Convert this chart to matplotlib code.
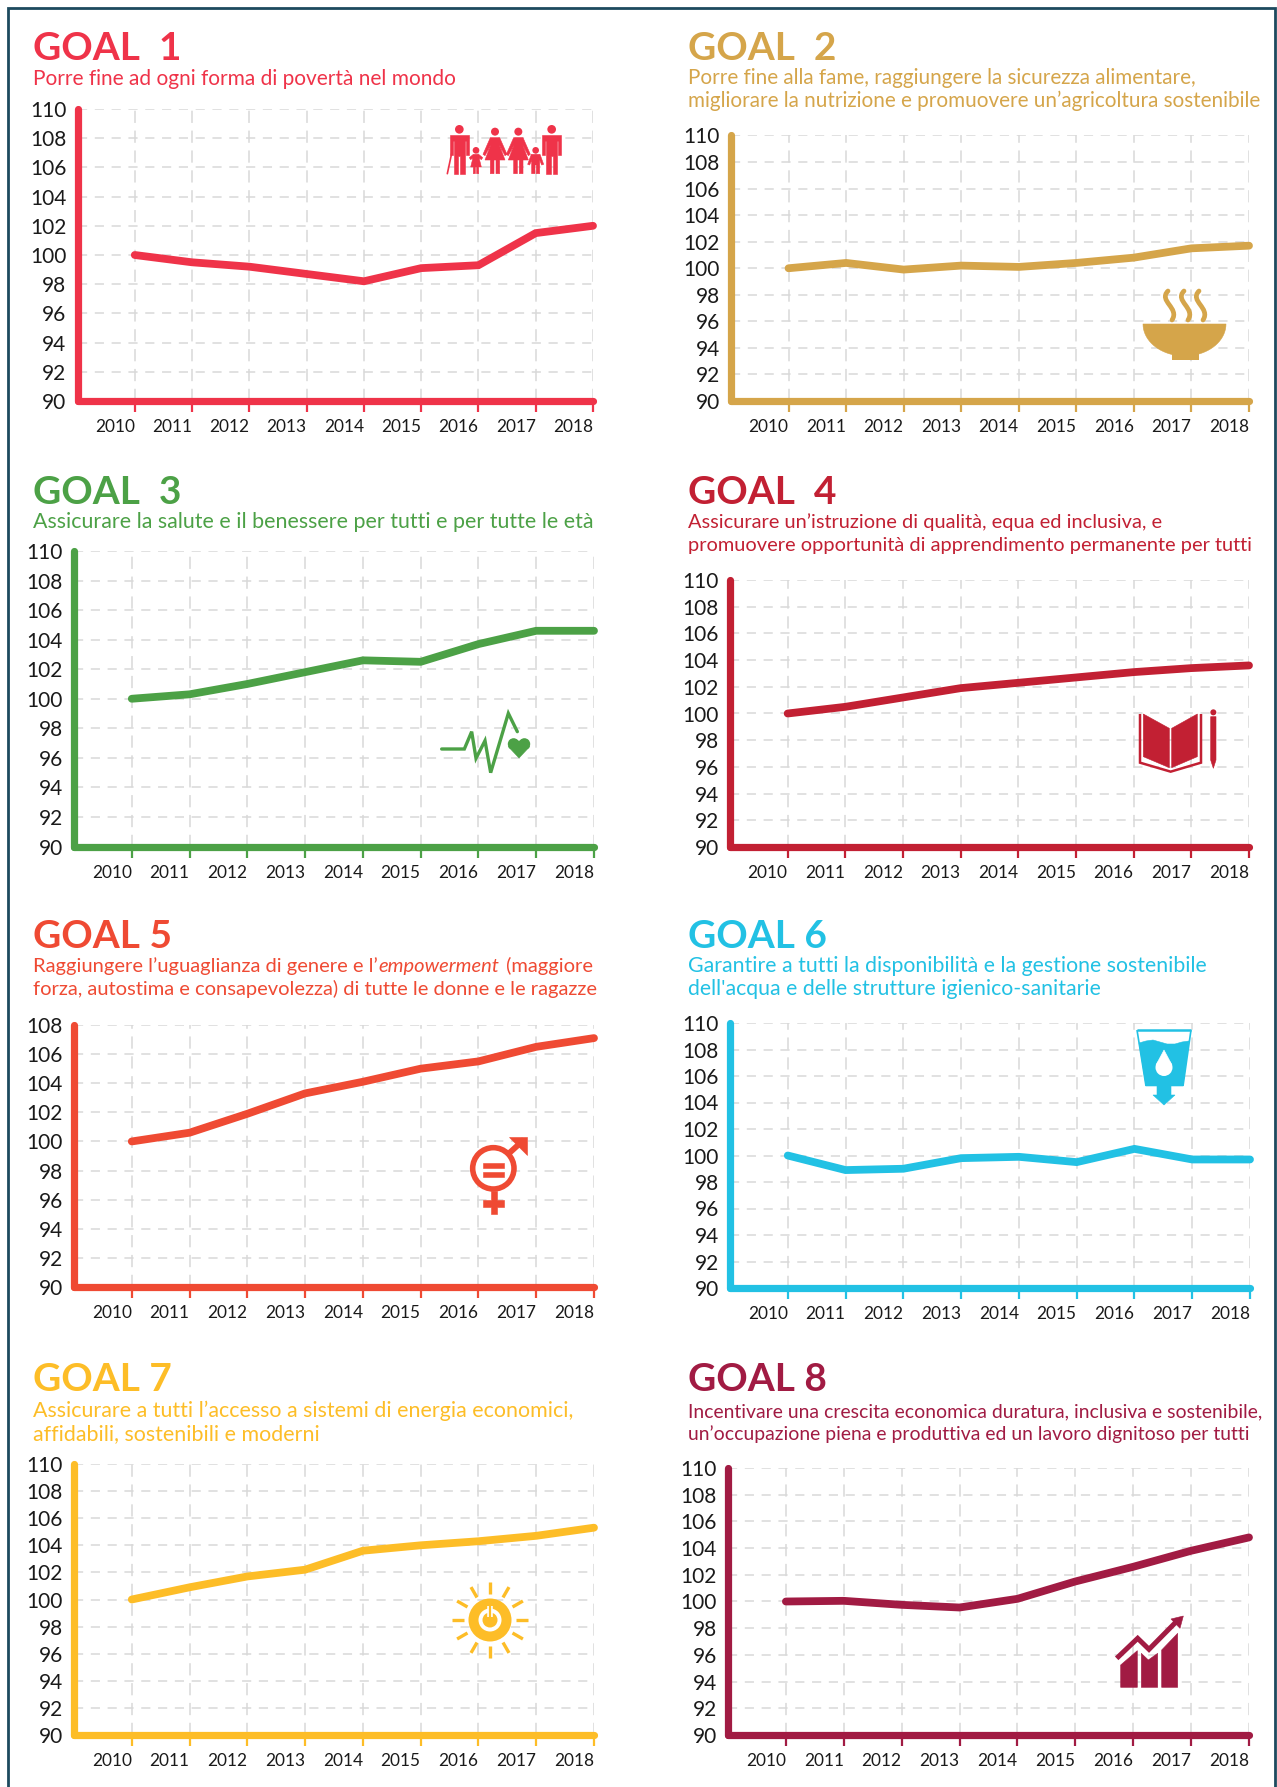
import matplotlib
matplotlib.use("Agg")
import matplotlib.pyplot as plt
import numpy as np
from matplotlib.patches import Polygon, Circle, Rectangle, PathPatch
from matplotlib.path import Path
from matplotlib.transforms import ScaledTranslation

W, H = 1277, 1787
plt.rcParams['font.family'] = ['Lato', 'DejaVu Sans']

years = [2010, 2011, 2012, 2013, 2014, 2015, 2016, 2017, 2018]
ticks110 = list(range(90, 111, 2))
ticks108 = list(range(90, 109, 2))

goal1 = [100, 99.5, 99.2, 98.7, 98.2, 99.1, 99.3, 101.5, 102]
goal2 = [100, 100.4, 99.9, 100.2, 100.1, 100.4, 100.8, 101.5, 101.7]
goal3 = [100, 100.3, 101, 101.8, 102.6, 102.5, 103.7, 104.6, 104.6]
goal4 = [100, 100.5, 101.2, 101.9, 102.3, 102.7, 103.1, 103.4, 103.6]
goal5 = [100, 100.6, 101.9, 103.3, 104.1, 105, 105.5, 106.5, 107.1]
goal6 = [100, 98.9, 99, 99.8, 99.9, 99.5, 100.5, 99.7, 99.7]
goal7 = [100, 100.9, 101.7, 102.2, 103.6, 104, 104.3, 104.7, 105.3]
goal8 = [100, 100.05, 99.75, 99.55, 100.2, 101.5, 102.6, 103.8, 104.8]

titles = ["GOAL  1", "GOAL  2", "GOAL  3", "GOAL  4", "GOAL 5", "GOAL 6", "GOAL 7", "GOAL 8"]
subtitles = [
    ["Porre fine ad ogni forma di povertà nel mondo"],
    ["Porre fine alla fame, raggiungere la sicurezza alimentare,",
     "migliorare la nutrizione e promuovere un’agricoltura sostenibile"],
    ["Assicurare la salute e il benessere per tutti e per tutte le età"],
    ["Assicurare un’istruzione di qualità, equa ed inclusiva, e",
     "promuovere opportunità di apprendimento permanente per tutti"],
    [None,
     "forza, autostima e consapevolezza) di tutte le donne e le ragazze"],
    ["Garantire a tutti la disponibilità e la gestione sostenibile",
     "dell'acqua e delle strutture igienico-sanitarie"],
    ["Assicurare a tutti l’accesso a sistemi di energia economici,",
     "affidabili, sostenibili e moderni"],
    ["Incentivare una crescita economica duratura, inclusiva e sostenibile,",
     "un’occupazione piena e produttiva ed un lavoro dignitoso per tutti"],
]
sub_size = [15.0, 14.9, 15.4, 14.4, 14.5, 15.3, 15.4, 13.95]
colors = ["#EF3349", "#D5A54A", "#4CA146", "#C22033", "#EF4A33", "#22C1E4", "#FDBD27", "#A11B43"]
values = [goal1, goal2, goal3, goal4, goal5, goal6, goal7, goal8]
yticks = [ticks110, ticks110, ticks110, ticks110, ticks108, ticks110, ticks110, ticks110]

# panel boxes in pixels: left, right, top, bottom
boxes = [(77.5, 593, 109, 401), (731, 1249, 135.5, 401),
         (74, 594, 551, 846.5), (730, 1249, 580, 847),
         (74, 594, 1025, 1287), (730, 1250, 1023, 1288),
         (74, 594, 1464, 1735), (728, 1249, 1468, 1735)]
text_x = [33, 688] * 4
title_y = [60, 60, 504, 504, 948, 948, 1391, 1391]
sub_y = [85, 84, 528, 528, 972, 972, 1417, 1417]

fig = plt.figure(figsize=(W / 100, H / 100), dpi=100, facecolor='white')
shift = ScaledTranslation(2 / 100, 0, fig.dpi_scale_trans)

for i in range(8):
    l, r, t, b = boxes[i]
    c = colors[i]
    ax = fig.add_axes([l / W, 1 - b / H, (r - l) / W, (b - t) / H])
    ax.set_xlim(2009, 2018)
    ax.set_ylim(90, yticks[i][-1])
    ax.set_xticks(years)
    ax.set_xticklabels([str(y) for y in years], ha='right', fontsize=12.4, color='#1a1a1a')
    for lab in ax.get_xticklabels():
        lab.set_transform(lab.get_transform() + shift)
    ax.set_yticks(yticks[i])
    ax.tick_params(axis='y', length=0, pad=8, labelsize=15, labelcolor='#1a1a1a')
    ax.tick_params(axis='x', length=8, width=1.6, color=c, pad=5)
    ax.xaxis.grid(True, color='#d9d9d9', lw=1.1, ls=(0, (8, 5)))
    ax.yaxis.grid(True, color='#d9d9d9', lw=1.1, ls=(0, (6, 5)))
    ax.set_axisbelow(True)
    for s in ['top', 'right']:
        ax.spines[s].set_visible(False)
    for s in ['left', 'bottom']:
        ax.spines[s].set_color(c)
        ax.spines[s].set_linewidth(5.2)
        ax.spines[s].set_capstyle('round')
    ax.plot(years, values[i], color=c, lw=5.6, solid_capstyle='round',
            solid_joinstyle='miter', clip_on=False, zorder=5)

# overlay in pixel coordinates for frame, headings and icons
ov = fig.add_axes([0, 0, 1, 1], zorder=10)
ov.set_xlim(0, W)
ov.set_ylim(H, 0)
ov.axis('off')
ov.patch.set_alpha(0)

ov.plot([8, 8, 1275, 1275], [H, 8, 8, H], color='#1D4A5E', lw=2, solid_joinstyle='miter')

for i in range(8):
    ov.text(text_x[i], title_y[i], titles[i], color=colors[i], fontsize=28, fontweight='bold', va='baseline')
    for j, line in enumerate(subtitles[i]):
        if line is not None:
            ov.text(text_x[i], sub_y[i] + j * 23, line, color=colors[i], fontsize=sub_size[i], va='baseline')

# first line of goal 5 has an italic word
fig.canvas.draw()
rend = fig.canvas.get_renderer()
x = 33
inv = ov.transData.inverted()
for part, style in [("Raggiungere l’uguaglianza di genere e l’", 'normal'),
                    ("empowerment", 'italic'), (" (maggiore", 'normal')]:
    tx = ov.text(x, 972, part.replace(" ", "\u00a0"), color=colors[4], fontsize=sub_size[4], va='baseline', style=style)
    bb = tx.get_window_extent(rend)
    x = inv.transform((bb.x1, 0))[0] + 1


def poly(pts, c, ox=0, oy=0, k=1.0):
    pts = [(ox + p[0] * k, oy + p[1] * k) for p in pts]
    ov.add_patch(Polygon(pts, closed=True, fc=c, ec=c, lw=0.4))


def stroke(pts, c, lw, ox=0, oy=0, k=1.0, cap='round'):
    xs = [ox + p[0] * k for p in pts]
    ys = [oy + p[1] * k for p in pts]
    ov.plot(xs, ys, color=c, lw=lw, solid_capstyle=cap, solid_joinstyle='miter')


# family, goal 1
c = colors[0]
fx, fy, fk = 440, 115, 1 / 3


def man(cx, top):
    ov.add_patch(Circle((fx + cx * fk, fy + (top + 13) * fk), 13 * fk, fc=c, ec='none'))
    s = top + 31
    poly([(cx - 28, s), (cx + 28, s), (cx + 28, s + 58), (cx + 20, s + 58), (cx + 20, s + 16), (cx + 17, s + 16),
          (cx + 17, 176), (cx + 3, 176), (cx + 3, s + 62), (cx - 3, s + 62), (cx - 3, 176), (cx - 17, 176),
          (cx - 17, s + 16), (cx - 20, s + 16), (cx - 20, s + 58), (cx - 28, s + 58)], c, fx, fy, fk)


def woman(cx):
    ov.add_patch(Circle((fx + cx * fk, fy + 50 * fk), 12 * fk, fc=c, ec='none'))
    poly([(cx - 14, 68), (cx + 14, 68), (cx + 36, 118), (cx + 30, 122), (cx + 13, 90), (cx + 30, 135),
          (cx + 14, 135), (cx + 14, 176), (cx + 3, 176), (cx + 3, 135), (cx - 3, 135), (cx - 3, 176),
          (cx - 14, 176), (cx - 14, 135), (cx - 30, 135), (cx - 13, 90), (cx - 30, 122), (cx - 36, 118)], c, fx, fy, fk)


man(58, 30)
man(335, 30)
woman(165)
woman(235)
stroke([(35, 115), (22, 176)], c, 1.2, fx, fy, fk)
# girl and boy
ov.add_patch(Circle((fx + 108 * fk, fy + 106 * fk), 10 * fk, fc=c, ec='none'))
poly([(100, 118), (116, 118), (128, 128), (124, 134), (117, 128), (124, 156), (116, 156), (116, 176), (110, 176),
      (110, 156), (106, 156), (106, 176), (100, 176), (100, 156), (92, 156), (99, 128), (92, 134), (88, 128)], c, fx, fy, fk)
ov.add_patch(Circle((fx + 287 * fk, fy + 106 * fk), 10 * fk, fc=c, ec='none'))
poly([(274, 118), (300, 118), (311, 148), (305, 150), (299, 135), (299, 176), (289, 176), (289, 150), (285, 150),
      (285, 176), (275, 176), (275, 135), (269, 150), (263, 148)], c, fx, fy, fk)

# bowl, goal 2
c = colors[1]
t = np.linspace(0, np.pi, 40)
bowl = [(1184.5 + 41.5 * np.cos(a), 324 + 32 * np.sin(a)) for a in t]
poly(bowl, c)
ov.add_patch(Rectangle((1172, 350), 27, 10, fc=c, ec='none'))
for sx in [1168, 1184, 1199]:
    ov.add_patch(PathPatch(Path([(sx, 291), (sx - 10, 301), (sx + 12, 308), (sx + 4, 320)],
                                [Path.MOVETO, Path.CURVE4, Path.CURVE4, Path.CURVE4]),
                           fc='none', ec=c, lw=3.4, capstyle='round'))

# heartbeat, goal 3
c = colors[2]
stroke([(35, 147), (103, 147), (125, 95), (138, 175), (165, 122), (182, 218), (235, 40), (262, 95)],
       c, 2.4, 430, 700, 1 / 3)
ov.add_patch(Circle((513.6, 744), 5.8, fc=c, ec='none'))
ov.add_patch(Circle((524.4, 744), 5.8, fc=c, ec='none'))
poly([(508.2, 746.5), (529.8, 746.5), (519, 758), (519, 758)], c)
poly([(513.6, 741), (524.4, 741), (529, 748), (509, 748)], c)

# book, goal 4
c = colors[3]
bx, by, bk = 1125, 700, 1 / 3
poly([(55, 42), (133, 85), (133, 203), (55, 170)], c, bx, by, bk)
poly([(140, 85), (217, 42), (217, 170), (140, 203)], c, bx, by, bk)
stroke([(45, 42), (45, 188), (137, 215), (228, 188), (228, 42)], c, 1.8, bx, by, bk, cap='butt')
poly([(257, 50), (273, 50), (273, 180), (265, 205), (257, 180)], c, bx, by, bk)
ov.add_patch(Circle((bx + 265 * bk, by + 37 * bk), 9 * bk, fc=c, ec='none'))

# gender, goal 5
c = colors[4]
gx, gy, gk = 450, 1125, 1 / 3
ov.add_patch(Circle((gx + 130 * gk, gy + 130 * gk), 62 * gk, fc='white', ec=c, lw=4))
poly([(98, 113), (163, 113), (163, 128), (98, 128)], c, gx, gy, gk)
poly([(98, 140), (163, 140), (163, 155), (98, 155)], c, gx, gy, gk)
poly([(122, 198), (142, 198), (142, 225), (163, 225), (163, 245), (142, 245), (142, 268), (122, 268),
      (122, 245), (98, 245), (98, 225), (122, 225)], c, gx, gy, gk)
stroke([(178, 84), (222, 44)], c, 4.2, gx, gy, gk, cap='butt')
poly([(176, 35), (232, 35), (232, 90)], c, gx, gy, gk)

# water glass, goal 6
c = colors[5]
stroke([(1137, 1030), (1191, 1030)], c, 1.8, cap='butt')
stroke([(1137, 1030), (1146, 1086)], c, 1.2, cap='butt')
stroke([(1191, 1030), (1183, 1086)], c, 1.2, cap='butt')
poly([(1139, 1043), (1146, 1041), (1153, 1040), (1160, 1042), (1167, 1044), (1175, 1044), (1182, 1042),
      (1189, 1041), (1183, 1086), (1146, 1086)], c)
ov.add_patch(Circle((1164, 1067.5), 8.5, fc='white', ec='none'))
poly([(1164, 1050), (1156, 1065), (1172, 1065)], 'white')
poly([(1157, 1086), (1171, 1086), (1171, 1095), (1175, 1095), (1164, 1105), (1153, 1095), (1157, 1095)], c)

# sun, goal 7
c = colors[6]
sx, sy = 490, 1620
for a in np.radians(np.arange(0, 360, 30)):
    stroke([(sx + 26 * np.cos(a), sy + 26 * np.sin(a)), (sx + 38 * np.cos(a), sy + 38 * np.sin(a))], c, 2.4, cap='butt')
ov.add_patch(Circle((sx, sy), 21.5, fc=c, ec='none'))
ov.add_patch(Circle((sx, sy), 11.5, fc='white', ec='none'))
ov.add_patch(Circle((sx, sy), 7.5, fc=c, ec='none'))
stroke([(sx, sy - 14), (sx, sy - 3)], 'white', 4, cap='butt')
stroke([(sx, sy - 14), (sx, sy - 3)], c, 1.6, cap='butt')

# rising chart, goal 8
c = colors[7]
cx, cy, ck = 1105, 1605, 1 / 3
poly([(47, 180), (97, 137), (97, 247), (47, 247)], c, cx, cy, ck)
poly([(109, 145), (130, 165), (158, 145), (158, 247), (109, 247)], c, cx, cy, ck)
poly([(170, 135), (218, 85), (218, 247), (170, 247)], c, cx, cy, ck)
stroke([(35, 160), (98, 100), (132, 133), (212, 52)], c, 3.6, cx, cy, ck, cap='butt')
poly([(198, 42), (235, 33), (225, 70)], c, cx, cy, ck)

fig.savefig("out.png", dpi=100)
